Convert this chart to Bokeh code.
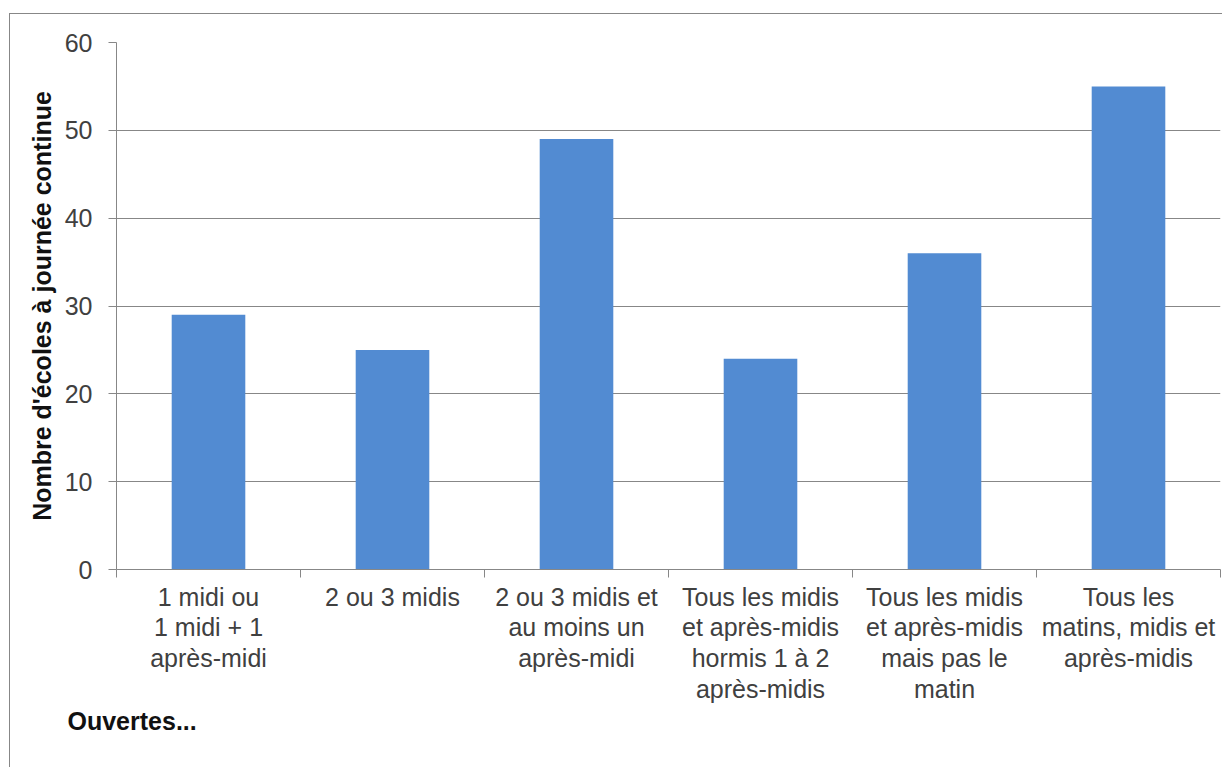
from bokeh.plotting import figure
from bokeh.models import Range1d, FixedTicker, Title, ColumnDataSource
from bokeh.embed import file_html
from bokeh.resources import INLINE

categories = [
    "1 midi ou\n1 midi + 1\naprès-midi",
    "2 ou 3 midis",
    "2 ou 3 midis et\nau moins un\naprès-midi",
    "Tous les midis\net après-midis\nhormis 1 à 2\naprès-midis",
    "Tous les midis\net après-midis\nmais pas le\nmatin",
    "Tous les\nmatins, midis et\naprès-midis",
]
values = [29, 25, 49, 24, 36, 55]
y_ticks = [0, 10, 20, 30, 40, 50, 60]
y_label = "Nombre d'écoles à journée continue"
footer = "Ouvertes..."

FONT = "Liberation Sans"
GREY = "#878787"
BAR = "#528bd2"

n = len(categories)
centers = [i + 0.5 for i in range(n)]
src = ColumnDataSource(dict(x=centers, top=values))

p = figure(width=1213, height=754, output_backend="svg", toolbar_location=None,
           x_range=Range1d(0, n), y_range=Range1d(y_ticks[0], y_ticks[-1]),
           min_border_left=106, min_border_right=3, min_border_top=28,
           min_border_bottom=199)
p.styles = {"border-top": "1px solid " + GREY, "border-left": "1px solid " + GREY,
            "margin-top": "13px", "margin-left": "9px"}
p.outline_line_color = None
p.background_fill_color = "white"
p.border_fill_color = "white"

p.vbar(x="x", top="top", width=0.4, bottom=0, source=src,
       fill_color=BAR, line_color=None)

# y axis
yax = p.yaxis[0]
yax.ticker = FixedTicker(ticks=y_ticks)
yax.axis_line_color = GREY
yax.major_tick_line_color = GREY
yax.major_tick_out = 8
yax.major_tick_in = 0
yax.minor_tick_line_color = None
yax.major_label_text_font = FONT
yax.major_label_text_font_size = "25px"
yax.major_label_text_color = "#404040"
yax.major_label_standoff = 16
yax.axis_label = y_label
yax.axis_label_text_font = FONT
yax.axis_label_text_font_size = "25px"
yax.axis_label_text_font_style = "bold"
yax.axis_label_text_color = "#111111"
yax.axis_label_standoff = 6

# x axis
xax = p.xaxis[0]
xax.ticker = FixedTicker(ticks=centers, minor_ticks=list(range(n + 1)))
xax.major_label_overrides = {c: lab for c, lab in zip(centers, categories)}
xax.axis_line_color = GREY
xax.major_tick_line_color = None
xax.minor_tick_line_color = GREY
xax.minor_tick_out = 8
xax.minor_tick_in = 0
xax.major_tick_out = 8
xax.major_tick_in = 0
xax.major_label_text_font = FONT
xax.major_label_text_font_size = "25px"
xax.major_label_text_color = "#404040"
xax.major_label_text_line_height = 1.1
xax.major_label_standoff = 5

p.xgrid.grid_line_color = None
p.ygrid.ticker = FixedTicker(ticks=y_ticks[1:])
p.ygrid.grid_line_color = GREY
p.ygrid.grid_line_width = 1

p.add_layout(Title(text=footer, align="left", offset=-49, standoff=-2,
                   text_font=FONT, text_font_size="25px", text_font_style="bold",
                   text_color="#111111"), "below")

open("out.html", "w").write(file_html(p, INLINE))
